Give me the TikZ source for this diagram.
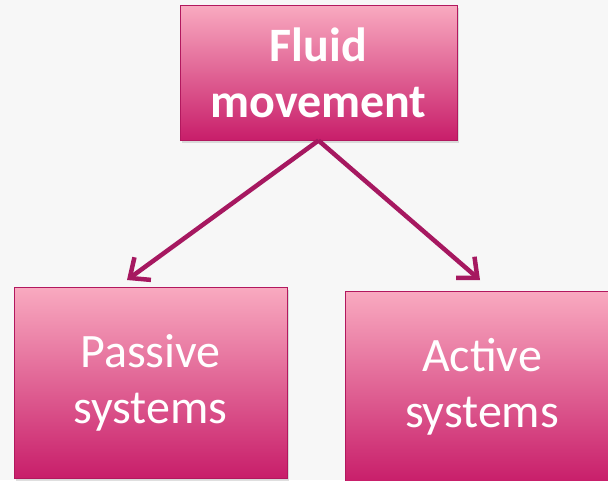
\documentclass[tikz,border=0pt]{standalone}
\usepackage{fontspec}
\setmainfont{Carlito}
\usetikzlibrary{arrows.meta,shadows}

\definecolor{paper}{RGB}{247,247,247}
\definecolor{boxtop}{RGB}{249,170,192}
\definecolor{boxbottom}{RGB}{200,30,106}
\definecolor{boxedge}{RGB}{178,24,94}
\definecolor{arrowcol}{RGB}{166,24,96}

\begin{document}
\begin{tikzpicture}[x = 1pt, y = -1pt, line width = 1pt,
    box/.style = {rectangle, draw = boxedge, top color = boxtop, bottom color = boxbottom,
        text = white, align = center, inner sep = 0pt,
        font = \fontsize{48}{56}\selectfont,
        drop shadow = {opacity = 0.25, shadow xshift = 2pt, shadow yshift = -3pt}}]
\fill[paper] (0,0) rectangle (608,480);
\clip (0,0) rectangle (608,480);
\draw (318.5,72.5) node[box, minimum width = 277pt, minimum height = 135pt](a1){\bfseries Fluid\\\bfseries movement}
    (150.5,382.5) node[box, minimum width = 273pt, minimum height = 191pt](a2){Passive\\systems}
    (482,386.5) node[box, minimum width = 274pt, minimum height = 191pt](a3){Active\\systems};
\coordinate (t2) at (127,280);
\coordinate (t3) at (480,280);
    \draw [-{Straight Barb[length = 16pt, width = 28pt]}, arrowcol, line width = 4.5pt] (a1.south) -- (t2);
    \draw [-{Straight Barb[length = 16pt, width = 28pt]}, arrowcol, line width = 4.5pt] (a1.south) -- (t3);
\end{tikzpicture}
\end{document}
